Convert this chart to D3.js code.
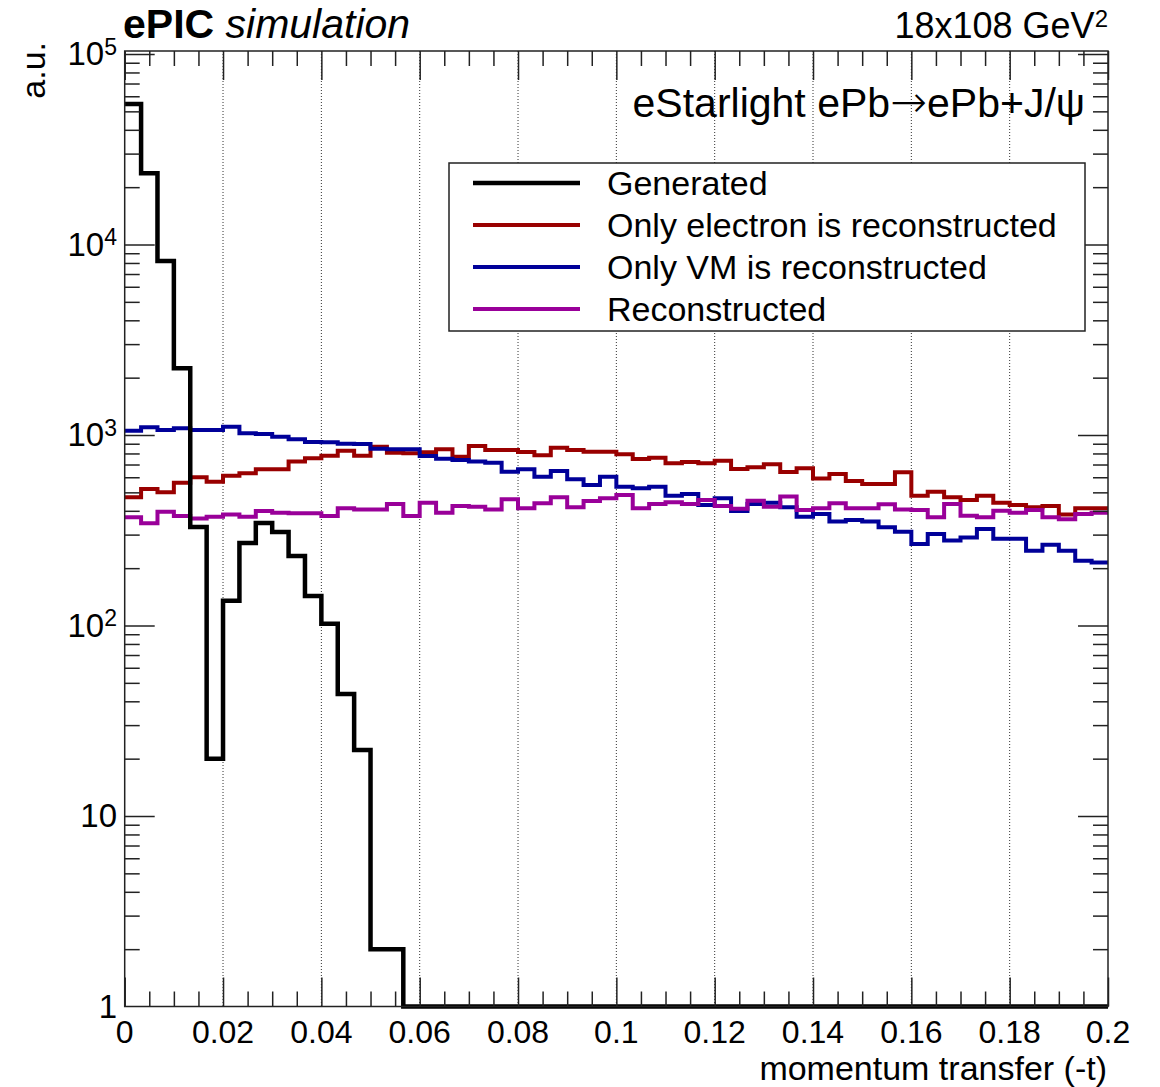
<!DOCTYPE html>
<html>
<head>
<meta charset="utf-8">
<script src="https://cdn.jsdelivr.net/npm/d3@7"></script>
<style>
body{margin:0;background:#fff;}
text{font-family:"Liberation Sans",Arial,Helvetica,sans-serif;fill:#000;}
</style>
</head>
<body>
<svg id="svg" width="1160" height="1087"></svg>
<script>
// 60 bins of -t between 0 and 0.2
var nBins = 60, tMin = 0, tMax = 0.2;

var generated = [54700, 23650, 8190, 2240, 329, 20, 135, 271, 345, 310,
	232, 143, 102, 43.7, 22.2, 2, 2, 0, 0, 0,
	0, 0, 0, 0, 0, 0, 0, 0, 0, 0,
	0, 0, 0, 0, 0, 0, 0, 0, 0, 0,
	0, 0, 0, 0, 0, 0, 0, 0, 0, 0,
	0, 0, 0, 0, 0, 0, 0, 0, 0, 0];
var electronOnly = [471, 521, 500, 562, 600, 569, 612, 630, 661, 661,
	726, 755, 779, 827, 779, 868, 807, 801, 811, 841,
	769, 876, 834, 834, 814, 782, 858, 834, 817, 817,
	792, 748, 760, 710, 722, 710, 733, 663, 677, 702,
	639, 669, 592, 624, 573, 553, 553, 637, 480, 504,
	471, 456, 480, 441, 429, 417, 424, 383, 412, 412];
var vmOnly = [1053, 1098, 1062, 1084, 1062, 1062, 1106, 1021, 1012, 980,
	949, 919, 915, 900, 897, 848, 841, 841, 776, 751,
	740, 726, 715, 642, 661, 604, 647, 585, 546, 604,
	535, 525, 535, 480, 490, 429, 465, 399, 434, 441,
	417, 372, 385, 351, 358, 351, 328, 311, 268, 302,
	279, 290, 321, 285, 285, 247, 265, 247, 219, 214];
var reconstructed = [370, 344, 396, 376, 365, 372, 382, 372, 399, 391,
	388, 388, 376, 412, 407, 407, 434, 376, 441, 391,
	424, 420, 407, 460, 412, 438, 471, 417, 450, 465,
	484, 412, 434, 443, 434, 456, 424, 410, 452, 420,
	476, 404, 412, 438, 412, 412, 433, 407, 404, 370,
	434, 377, 370, 400, 391, 404, 370, 361, 385, 391];

var xTicks = [0, 0.02, 0.04, 0.06, 0.08, 0.1, 0.12, 0.14, 0.16, 0.18, 0.2];
var xTickLabels = ["0", "0.02", "0.04", "0.06", "0.08", "0.1", "0.12", "0.14", "0.16", "0.18", "0.2"];
var yTicks = [1, 10, 100, 1000, 10000, 100000];
var yTickLabels = [["1", ""], ["10", ""], ["10", "2"], ["10", "3"], ["10", "4"], ["10", "5"]];

var seriesNames = ["Generated", "Only electron is reconstructed", "Only VM is reconstructed", "Reconstructed"];
var seriesColors = ["#000000", "#990000", "#000099", "#990099"];
var seriesData = [generated, electronOnly, vmOnly, reconstructed];

// frame of the pad (window.top is reserved, so no plain "top")
var padL = 124.7, padR = 1108, padT = 51, padB = 1006.5;
var yMin = 1, yMax = 1.037e5;

var svg = d3.select("#svg");
var x = d3.scaleLinear().domain([tMin, tMax]).range([padL, padR]);
var y = d3.scaleLog().domain([yMin, yMax]).range([padB, padT]);
var bw = (tMax - tMin) / nBins;

// grid
svg.append("g").selectAll("line").data(xTicks.slice(1, -1)).enter().append("line")
	.attr("x1", d => x(d)).attr("x2", d => x(d))
	.attr("y1", padT).attr("y2", padB)
	.attr("stroke", "#333").attr("stroke-width", 1).attr("stroke-dasharray", "1,2");

// histograms
var line = d3.line().curve(d3.curveStepAfter)
	.x(d => x(d[0])).y(d => y(Math.max(d[1], yMin)));
function steps(vals){
	var pts = vals.map((v, i) => [tMin + i * bw, v]);
	pts.push([tMax, vals[vals.length - 1]]);
	return pts;
}
[1, 2, 3, 0].forEach(function(k){
	svg.append("path").attr("d", line(steps(seriesData[k])))
		.attr("fill", "none").attr("stroke", seriesColors[k])
		.attr("stroke-width", k == 0 ? 4.5 : 4);
});

// axes (ticks point inward, ROOT style)
var minorX = d3.range(0, 41).map(i => i * 0.005).filter((d, i) => i % 4 != 0);
var minorY = [];
[1, 10, 100, 1000, 10000].forEach(function(dec){
	for(var k = 2; k <= 9; k++) minorY.push(k * dec);
});
function styleAxis(g){
	g.select(".domain").remove();
	g.selectAll(".tick line").attr("stroke", "#222").attr("stroke-width", 1.5);
	g.selectAll(".tick text").remove();
}
svg.append("g").attr("transform", "translate(0," + padB + ")")
	.call(d3.axisBottom(x).tickValues(xTicks).tickSize(-29)).call(styleAxis);
svg.append("g").attr("transform", "translate(0," + padB + ")")
	.call(d3.axisBottom(x).tickValues(minorX).tickSize(-15)).call(styleAxis);
svg.append("g").attr("transform", "translate(0," + padT + ")")
	.call(d3.axisTop(x).tickValues(xTicks).tickSize(-29)).call(styleAxis);
svg.append("g").attr("transform", "translate(0," + padT + ")")
	.call(d3.axisTop(x).tickValues(minorX).tickSize(-15)).call(styleAxis);
svg.append("g").attr("transform", "translate(" + padL + ",0)")
	.call(d3.axisLeft(y).tickValues(yTicks.slice(1)).tickSize(-30)).call(styleAxis);
svg.append("g").attr("transform", "translate(" + padL + ",0)")
	.call(d3.axisLeft(y).tickValues(minorY).tickSize(-15)).call(styleAxis);
svg.append("g").attr("transform", "translate(" + padR + ",0)")
	.call(d3.axisRight(y).tickValues(yTicks.slice(1)).tickSize(-30)).call(styleAxis);
svg.append("g").attr("transform", "translate(" + padR + ",0)")
	.call(d3.axisRight(y).tickValues(minorY).tickSize(-15)).call(styleAxis);

svg.append("rect").attr("x", padL).attr("y", padT)
	.attr("width", padR - padL).attr("height", padB - padT)
	.attr("fill", "none").attr("stroke", "#222").attr("stroke-width", 1.5);

// tick labels
svg.append("g").selectAll("text").data(xTicks).enter().append("text")
	.attr("x", d => x(d)).attr("y", 1043)
	.attr("text-anchor", "middle").style("font-size", "32px")
	.text((d, i) => xTickLabels[i]);

var yl = svg.append("g").selectAll("text").data(yTicks).enter().append("text")
	.attr("x", 117).attr("y", d => y(d) + 11)
	.attr("text-anchor", "end").style("font-size", "33px");
yl.append("tspan").text((d, i) => yTickLabels[i][0]);
yl.append("tspan").attr("dy", "-0.45em").style("font-size", "23px")
	.text((d, i) => yTickLabels[i][1]);

// axis titles
svg.append("text").attr("transform", "translate(45,42) rotate(-90)")
	.attr("text-anchor", "end").style("font-size", "34px").text("a.u.");
svg.append("text").attr("x", 1107).attr("y", 1080)
	.attr("text-anchor", "end").style("font-size", "34px").text("momentum transfer (-t)");

// header texts
var head = svg.append("text").attr("x", 123).attr("y", 38).style("font-size", "41px");
head.append("tspan").style("font-weight", "bold").text("ePIC");
head.append("tspan").style("font-style", "italic").text(" simulation");

var energy = svg.append("text").attr("x", 1108).attr("y", 38)
	.attr("text-anchor", "end").style("font-size", "36px");
energy.append("tspan").text("18x108 GeV");
energy.append("tspan").attr("dy", "-0.45em").style("font-size", "24px").text("2");

var proc = svg.append("text").attr("x", 1085).attr("y", 117)
	.attr("text-anchor", "end").style("font-size", "41px");
proc.append("tspan").text("eStarlight ePb");
proc.append("tspan").style("font-family", "'DejaVu Sans'").style("font-size", "44px")
	.style("font-weight", "200").text("\u2192");
proc.append("tspan").text("ePb+J/\u03c8");

// legend
var leg = svg.append("g");
leg.append("rect").attr("x", 449).attr("y", 163).attr("width", 636).attr("height", 168)
	.attr("fill", "#fff").attr("stroke", "#222").attr("stroke-width", 1.5);
var rows = leg.selectAll("g.row").data(seriesNames).enter().append("g")
	.attr("transform", (d, i) => "translate(0," + (183 + i * 42) + ")");
rows.append("line").attr("x1", 473).attr("x2", 580)
	.attr("stroke", (d, i) => seriesColors[i])
	.attr("stroke-width", (d, i) => i == 0 ? 4.5 : 4);
rows.append("text").attr("x", 607).attr("y", 12)
	.style("font-size", "34px").text(d => d);
</script>
</body>
</html>
